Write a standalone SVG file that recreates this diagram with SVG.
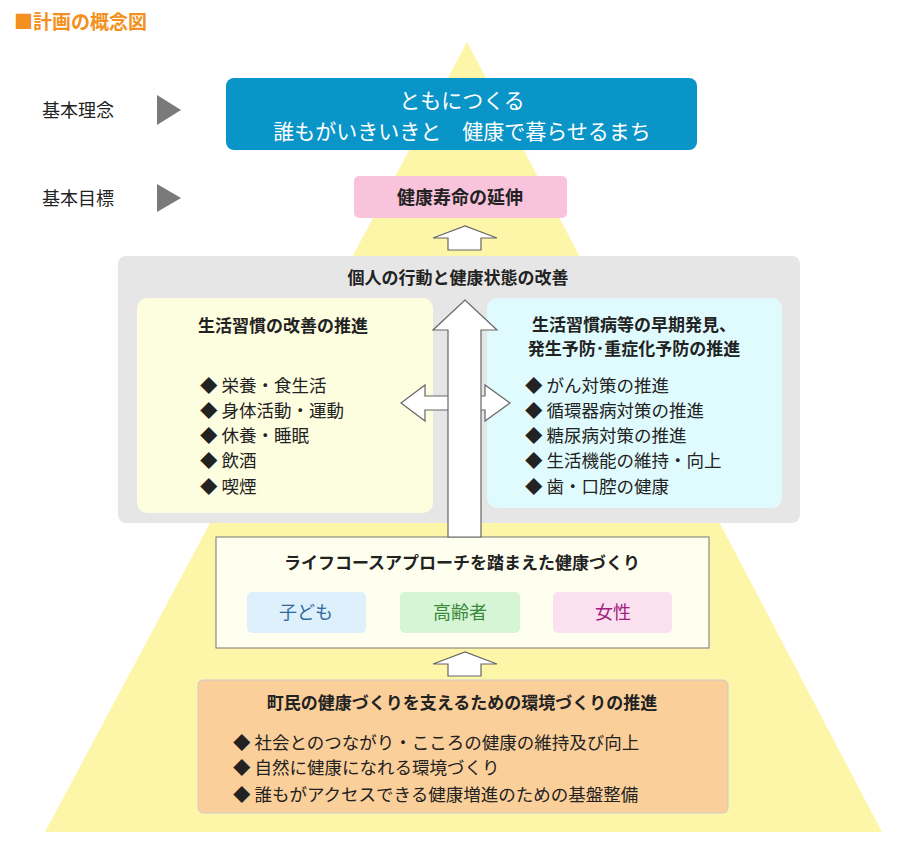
<svg xmlns="http://www.w3.org/2000/svg" width="904" height="850" viewBox="0 0 904 850">
<style>
text{font-family:"Noto Sans CJK JP","Noto Sans",sans-serif;fill:#222}
.b{font-weight:bold}
.c{text-anchor:middle}
.i{font-size:17.5px}
.h{font-size:17px;font-weight:bold}
.arr{fill:#fff;stroke:#666;stroke-width:1.2}
</style>
<rect width="904" height="850" fill="#fff"/>
<polygon points="467,42 45,832 882,832" fill="#fdf59a" opacity="0.85"/>
<text x="14" y="29" class="b" style="font-size:19px;fill:#f39020">■計画の概念図</text>
<g id="label1"><text x="42" y="117" style="font-size:18px">基本理念</text><polygon points="157,95 181,110 157,125" fill="#7a7a7a"/></g>
<g id="label2"><text x="42" y="205" style="font-size:18px">基本目標</text><polygon points="157,184 181,198 157,212" fill="#7a7a7a"/></g>
<g id="rinen"><rect x="226" y="78" width="471" height="72" rx="8" fill="#0a95c8"/>
<text x="462" y="108" class="c" style="font-size:21px;fill:#fff">ともにつくる</text>
<text x="462" y="139" class="c" style="font-size:21px;fill:#fff">誰もがいきいきと　健康で暮らせるまち</text></g>
<g id="mokuhyo"><rect x="354" y="176" width="213" height="42" rx="5" fill="#f9c3dc"/>
<text x="460" y="204" class="c b" style="font-size:18px">健康寿命の延伸</text></g>
<g id="kojin"><rect x="118" y="256" width="682" height="267" rx="8" fill="#e6e6e6"/>
<text x="458" y="284" class="c h">個人の行動と健康状態の改善</text></g>
<g id="seikatsu"><rect x="137" y="298" width="296" height="215" rx="10" fill="#fdfde0"/>
<text x="283" y="332" class="c h">生活習慣の改善の推進</text>
<text x="200" y="392" class="i">◆ 栄養・食生活</text>
<text x="200" y="417" class="i">◆ 身体活動・運動</text>
<text x="200" y="442" class="i">◆ 休養・睡眠</text>
<text x="200" y="467" class="i">◆ 飲酒</text>
<text x="200" y="493" class="i">◆ 喫煙</text></g>
<g id="soki"><rect x="487" y="298" width="295" height="210" rx="10" fill="#e0fbfd"/>
<text x="634" y="331" class="c h">生活習慣病等の早期発見、</text>
<text x="634" y="355" class="c h">発生予防･重症化予防の推進</text>
<text x="525" y="392" class="i">◆ がん対策の推進</text>
<text x="525" y="417" class="i">◆ 循環器病対策の推進</text>
<text x="525" y="442" class="i">◆ 糖尿病対策の推進</text>
<text x="525" y="467" class="i">◆ 生活機能の維持・向上</text>
<text x="525" y="493" class="i">◆ 歯・口腔の健康</text></g>
<g id="lifecourse"><rect x="216" y="537" width="493" height="111" fill="#fffff0" stroke="#777"/>
<text x="462" y="569" class="c h">ライフコースアプローチを踏まえた健康づくり</text>
<rect x="247" y="592" width="119" height="41" rx="5" fill="#ddf0fb"/><text x="306" y="619" class="c" style="font-size:18px;fill:#2f6a9a">子ども</text>
<rect x="400" y="592" width="120" height="41" rx="5" fill="#d5f5d5"/><text x="460" y="619" class="c" style="font-size:18px;fill:#3a8a3a">高齢者</text>
<rect x="553" y="592" width="119" height="41" rx="5" fill="#fbe0ef"/><text x="613" y="619" class="c" style="font-size:18px;fill:#a0207f">女性</text></g>
<g id="kankyo"><rect x="198" y="680" width="530" height="133" rx="5" fill="#fbcf9a" stroke="#ccc"/>
<text x="462" y="709" class="c h">町民の健康づくりを支えるための環境づくりの推進</text>
<text x="233" y="749" class="i">◆ 社会とのつながり・こころの健康の維持及び向上</text>
<text x="233" y="774" class="i">◆ 自然に健康になれる環境づくり</text>
<text x="233" y="801" class="i">◆ 誰もがアクセスできる健康増進のための基盤整備</text></g>
<g id="connectors">
<polygon class="arr" points="510,403 485,421 485,410 425,410 425,421 401,403 425,385 425,396 485,396 485,385"/>
<polygon class="arr" points="448,537 448,330 433,330 465,300 497,330 481,330 481,537"/>
<polygon class="arr" points="448,250 448,238 433,238 465,226 497,238 481,238 481,250"/>
<polygon class="arr" points="448,676 448,664 433,664 465,652 497,664 481,664 481,676"/>
</g>
</svg>
